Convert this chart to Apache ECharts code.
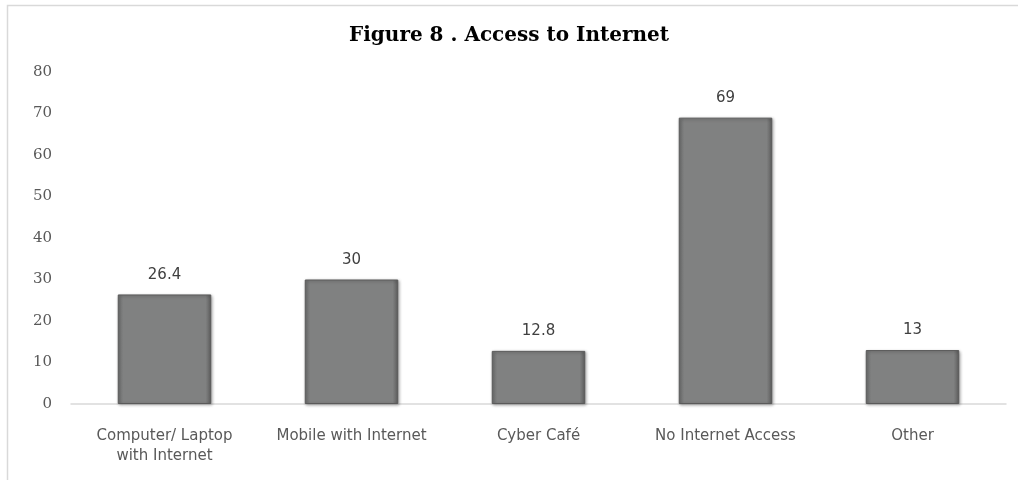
<!DOCTYPE html>
<html><head><meta charset="utf-8">
<script src="https://cdn.jsdelivr.net/npm/echarts@6/dist/echarts.min.js"></script>
<style>html,body{margin:0;padding:0;background:#fff}#c{width:1018px;height:482px}</style>
</head><body><div id="c"></div>
<script>
const titleText = 'Figure 8 . Access to Internet';
const categories = ['Computer/ Laptop\nwith Internet', 'Mobile with Internet', 'Cyber Café', 'No Internet Access', 'Other'];
const values = [26.4, 30, 12.8, 69, 13];
const yMin = 0, yMax = 80, yStep = 10;

const chart = echarts.init(document.getElementById('c'));
chart.setOption({
  animation: false,
  backgroundColor: '#fff',
  graphic: [{ type: 'polyline', shape: { points: [[7.5, 480], [7.5, 5.5], [1018, 5.5]] }, style: { fill: 'none', stroke: '#d9d9d9', lineWidth: 1.5 }, z: -1 }],
  title: { text: titleText, left: 'center', top: 21, textStyle: { fontFamily: 'DejaVu Serif', fontWeight: 'bold', fontSize: 20, color: '#000' } },
  grid: { left: 71, right: 12, top: 72, bottom: 78 },
  xAxis: {
    type: 'category', data: categories,
    axisLine: { lineStyle: { color: '#d9d9d9', width: 1.5 } },
    axisTick: { show: false },
    axisLabel: { interval: 0, color: '#595959', fontFamily: 'DejaVu Sans', fontSize: 15, margin: 22, lineHeight: 20 }
  },
  yAxis: {
    type: 'value', min: yMin, max: yMax, interval: yStep,
    splitLine: { show: false },
    axisLine: { show: false }, axisTick: { show: false },
    axisLabel: { color: '#595959', fontFamily: 'DejaVu Serif', fontSize: 15, margin: 19 }
  },
  series: [{
    type: 'bar', data: values, barWidth: '50%',
    itemStyle: {
      color: { type: 'linear', x: 0, y: 0, x2: 1, y2: 0, colorStops: [
        { offset: 0, color: '#6f7070' }, { offset: 0.06, color: '#808181' },
        { offset: 0.94, color: '#808181' }, { offset: 1, color: '#5c5c5c' }] },
      borderColor: '#5a5a5a', borderWidth: 1,
      shadowColor: 'rgba(0,0,0,0.3)', shadowBlur: 3, shadowOffsetX: 1, shadowOffsetY: 1
    },
    label: { show: true, position: 'top', distance: 12, color: '#404040', fontFamily: 'DejaVu Sans', fontSize: 15 }
  }]
});
</script></body></html>
